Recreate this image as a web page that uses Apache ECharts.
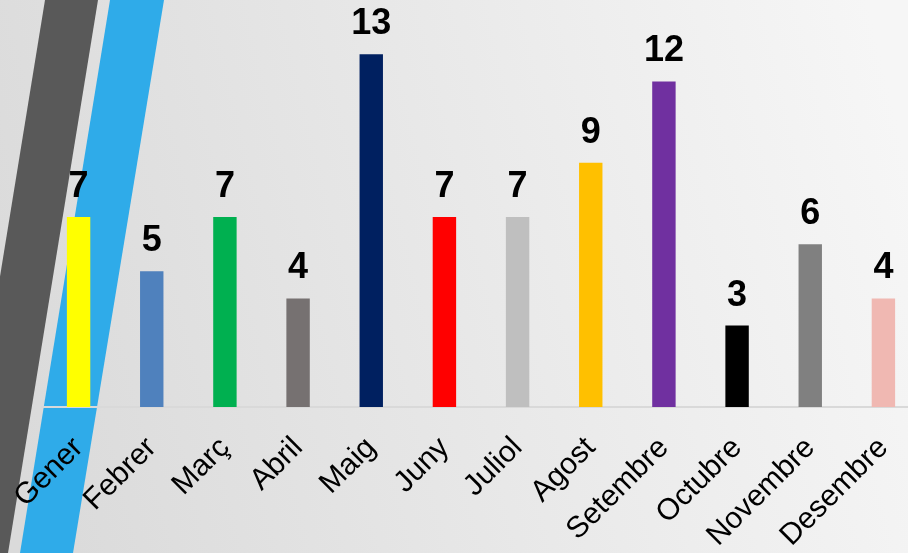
<!DOCTYPE html>
<html>
<head>
<meta charset="utf-8">
<style>
  html, body { margin: 0; padding: 0; }
  #chart { width: 908px; height: 553px; }
</style>
<script src="https://cdn.jsdelivr.net/npm/echarts@6/dist/echarts.min.js"></script>
</head>
<body>
<div id="chart"></div>
<script>
// Monthly counts
const months = ['Gener', 'Febrer', 'Març', 'Abril', 'Maig', 'Juny', 'Juliol', 'Agost', 'Setembre', 'Octubre', 'Novembre', 'Desembre'];
const counts = [7, 5, 7, 4, 13, 7, 7, 9, 12, 3, 6, 4];
const barColors = ['#ffff00', '#4f81bd', '#00b050', '#767171', '#002060', '#ff0000', '#bfbfbf', '#ffc000', '#7030a0', '#000000', '#808080', '#f0b8b2'];

const chart = echarts.init(document.getElementById('chart'), null, { renderer: 'canvas' });

chart.setOption({
  animation: false,
  backgroundColor: new echarts.graphic.LinearGradient(0, 0.7, 1, 0.3, [
    { offset: 0, color: '#dadada' },
    { offset: 1, color: '#f6f6f6' }
  ]),
  // decorative slanted stripes on the left edge
  graphic: [
    {
      type: 'polygon', z: -10, silent: true,
      shape: { points: [[45, 0], [98, 0], [8, 553], [-45, 553]] },
      style: { fill: '#595959' }
    },
    {
      type: 'polygon', z: -10, silent: true,
      shape: { points: [[110, 0], [164, 0], [73, 553], [20, 553]] },
      style: { fill: '#2fabe9' }
    }
  ],
  // the last category runs slightly past the right edge
  grid: { left: 42, width: 878, top: 0, height: 407, containLabel: false, outerBoundsMode: 'none' },
  xAxis: {
    type: 'category',
    data: months,
    axisLine: { show: true, lineStyle: { color: '#d9d9d9', width: 2 } },
    axisTick: { show: false },
    axisLabel: {
      rotate: 45,
      margin: 36,
      interval: 0,
      color: '#000',
      fontSize: 30,
      fontFamily: 'Liberation Sans, Arial, sans-serif'
    }
  },
  yAxis: {
    type: 'value',
    min: 0,
    max: 15,
    show: false,
    splitLine: { show: false }
  },
  series: [{
    type: 'bar',
    barWidth: '32%',
    data: counts.map((v, i) => ({ value: v, itemStyle: { color: barColors[i] } })),
    label: {
      show: true,
      position: 'top',
      distance: 12,
      color: '#000',
      fontSize: 36,
      fontWeight: 'bold',
      fontFamily: 'Liberation Sans, Arial, sans-serif'
    }
  }]
});
</script>
</body>
</html>
